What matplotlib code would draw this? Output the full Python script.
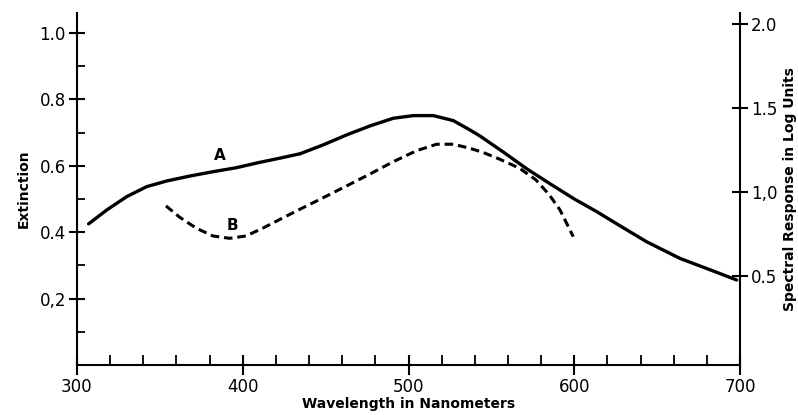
import matplotlib
matplotlib.use("Agg")
import matplotlib.pyplot as plt
from matplotlib.ticker import MultipleLocator, FixedLocator

# curve A - extinction (left axis)
wl_a = [307, 318, 330, 342, 354, 368, 382, 396, 410, 422.5, 434.5, 448.6,
        462.7, 476.8, 490.8, 503, 515, 527, 537, 543, 557, 571, 585, 600,
        613.5, 626, 643.7, 663.8, 683.9, 698]
ext_a = [0.425, 0.467, 0.507, 0.537, 0.554, 0.569, 0.582, 0.594, 0.61, 0.623,
         0.636, 0.663, 0.693, 0.72, 0.743, 0.751, 0.751, 0.736, 0.708, 0.69,
         0.642, 0.592, 0.547, 0.5, 0.462, 0.424, 0.371, 0.321, 0.283, 0.256]

# curve B - spectral response in log units (right axis)
wl_b = [353.7, 362, 372, 382, 392, 402, 412, 422.5, 434.5, 448.6, 462.7,
        476.8, 490.8, 505, 517, 527, 537, 545, 555, 567, 577, 585, 591.4, 599.4]
resp_b = [0.917, 0.849, 0.784, 0.738, 0.724, 0.738, 0.784, 0.837, 0.897,
          0.966, 1.036, 1.107, 1.18, 1.246, 1.284, 1.284, 1.26, 1.235, 1.195,
          1.141, 1.071, 0.982, 0.893, 0.734]

left_ticks = [0.2, 0.4, 0.6, 0.8, 1.0]
left_labels = ["0,2", "0.4", "0.6", "0.8", "1.0"]
right_ticks = [0.5, 1.0, 1.5, 2.0]
right_labels = ["0.5", "1,0", "1.5", "2.0"]
x_ticks = [300, 400, 500, 600, 700]

fig = plt.figure(figsize=(7.98, 4.15), dpi=100)
ax = fig.add_axes([77/798, 1-365/415, (740-77)/798, (365-13)/415])
ax2 = ax.twinx()

ax.plot(wl_a, ext_a, color="black", lw=2.4, solid_capstyle="round",
        solid_joinstyle="round")
ln, = ax2.plot(wl_b, resp_b, color="black", lw=2.2, dash_joinstyle="round")
ln.set_dashes((2.8, 1.6))

ax.text(386, 0.63, "A", fontsize=11, fontweight="bold", ha="center", va="center")
ax2.text(394, 0.80, "B", fontsize=11, fontweight="bold", ha="center", va="center")

ax.set_xlim(300, 700)
ax.set_ylim(0, 1.06)
ax2.set_ylim(-0.03, 2.065)

for a in (ax, ax2):
    a.spines["top"].set_visible(False)
    for s in a.spines.values():
        s.set_linewidth(1.5)
ax.spines["right"].set_visible(False)
ax2.spines["left"].set_visible(False)
ax2.spines["bottom"].set_visible(False)

ax.set_xticks(x_ticks)
ax.xaxis.set_minor_locator(MultipleLocator(20))
ax.set_yticks(left_ticks)
ax.set_yticklabels(left_labels)
ax.yaxis.set_minor_locator(FixedLocator([0.1, 0.3, 0.5, 0.7, 0.9]))
ax2.set_yticks(right_ticks)
ax2.set_yticklabels(right_labels)

ax.tick_params(axis="x", which="major", direction="inout", length=14, width=1.5,
               labelsize=12, pad=2)
ax.tick_params(axis="x", which="minor", direction="in", length=7, width=1.3)
ax.tick_params(axis="y", which="major", direction="inout", length=12, width=1.5,
               labelsize=12, pad=2)
ax.tick_params(axis="y", which="minor", direction="in", length=6, width=1.3)
ax2.tick_params(axis="y", which="major", direction="inout", length=12, width=1.5,
                labelsize=12, pad=2)

ax.set_xlabel("Wavelength in Nanometers", fontsize=10, fontweight="bold", labelpad=1)
ax.set_ylabel("Extinction", fontsize=10, fontweight="bold", labelpad=6)
ax2.set_ylabel("Spectral Response in Log Units", fontsize=10, fontweight="bold",
               labelpad=4)

fig.savefig("out.png", dpi=100)
